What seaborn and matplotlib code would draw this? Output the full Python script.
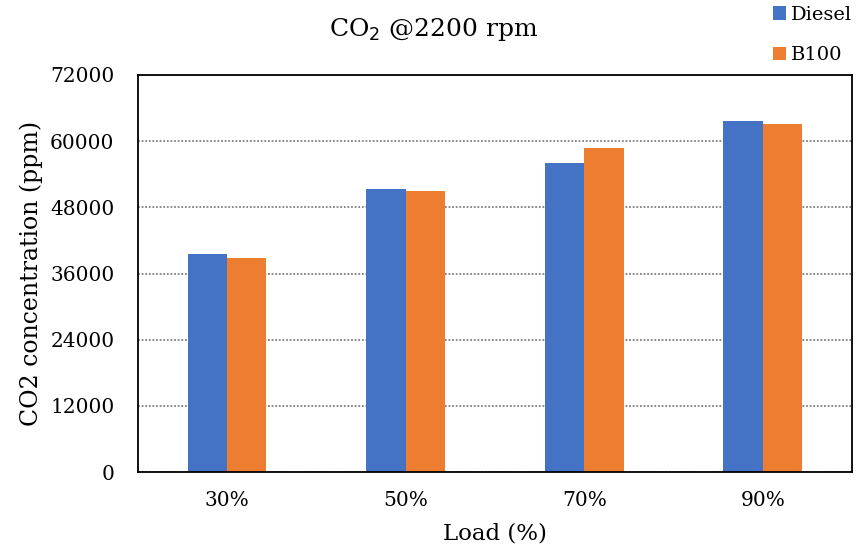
import matplotlib
matplotlib.use("Agg")
import matplotlib.pyplot as plt
import seaborn as sns
import pandas as pd
from matplotlib.patches import Patch

loads = ["30%", "50%", "70%", "90%"]
diesel = [39600, 51400, 56100, 63700]
b100 = [38800, 51000, 58800, 63200]
series_names = ["Diesel", "B100"]
colors = ["#4472C4", "#ED7D31"]
yticks = [0, 12000, 24000, 36000, 48000, 60000, 72000]

df = pd.DataFrame({
    "Load": loads * 2,
    "Value": diesel + b100,
    "Fuel": [series_names[0]] * 4 + [series_names[1]] * 4,
})

sns.set_style("white")
plt.rcParams["font.family"] = ["DejaVu Serif"]
for k in ["text.color", "axes.labelcolor", "xtick.color", "ytick.color"]:
    plt.rcParams[k] = "black"

fig = plt.figure(figsize=(8.58, 5.58), dpi=100)
ax = fig.add_axes([0.1608, 0.1541, 0.8322, 0.7115])

sns.barplot(data=df, x="Load", y="Value", hue="Fuel", palette=colors,
            width=0.44, ax=ax, legend=False, saturation=1, gap=0,
            linewidth=0)

ax.set_ylim(0, 72000)
ax.set_yticks(yticks)
ax.set_yticklabels([str(v) for v in yticks], fontsize=14.5)
ax.tick_params(axis="y", length=0, pad=17, left=True)
ax.tick_params(axis="x", length=0, labelsize=14.5, pad=14)
ax.yaxis.grid(True, linestyle=(0, (1, 1)), color="#808080", linewidth=1.3)
ax.set_axisbelow(True)
for s in ax.spines.values():
    s.set_visible(True)
    s.set_color("black")
    s.set_linewidth(1.3)

ax.set_xlabel("Load (%)", fontsize=16.5, labelpad=9)
ax.set_ylabel("CO2 concentration (ppm)", fontsize=17, labelpad=5)
fig.text(0.505, 0.936, "CO$_2$ @2200 rpm", ha="center", va="baseline", fontsize=18)

handles = [Patch(facecolor=c, edgecolor="none") for c in colors]
fig.legend(handles, series_names, loc="upper right", bbox_to_anchor=(1.0, 1.0),
           frameon=False, fontsize=14, handlelength=0.7, handleheight=0.7,
           handletextpad=0.25, labelspacing=1.15, borderaxespad=0.1,
           borderpad=0.2)

fig.savefig("out.png", dpi=100)
